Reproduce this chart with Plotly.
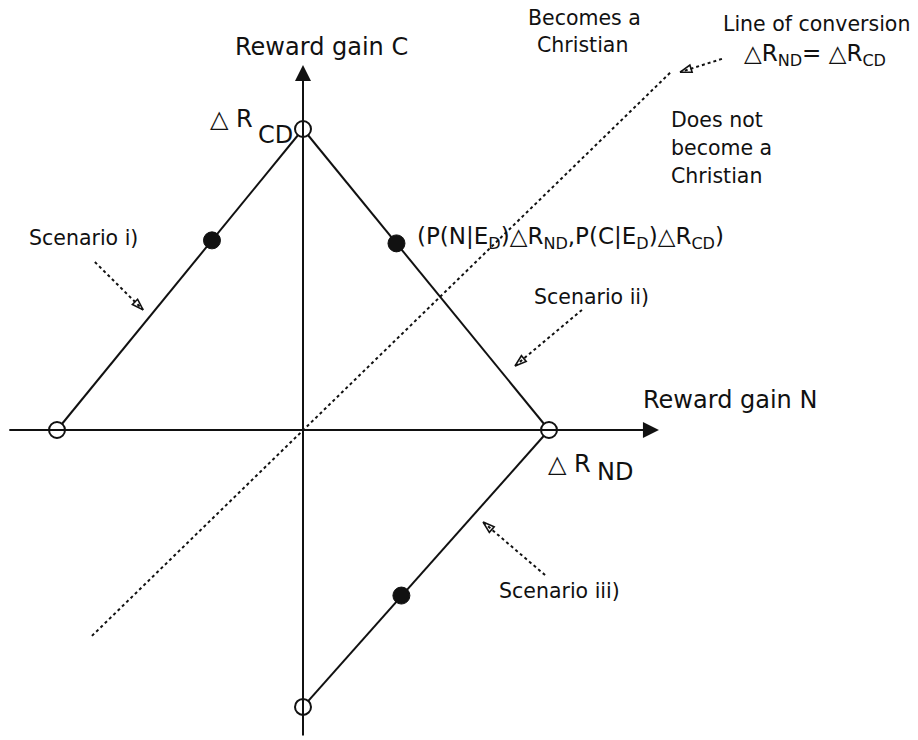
import plotly.graph_objects as go

# ---- diagram data (units: x in ΔR_ND, y in ΔR_CD) ----
axis_x_start, axis_x_tip = -1.2, 1.447      # horizontal axis (Reward gain N)
axis_y_start, axis_y_tip = -1.02, 1.213     # vertical axis (Reward gain C)

scen1_x = [-1.0, 0.0]
scen1_y = [0.0, 1.0]
scen2_x = [0.0, 1.0]
scen2_y = [1.0, 0.0]
scen3_x = [0.0, 1.0]
scen3_y = [-0.92, 0.0]

open_x = [-1.0, 0.0, 1.0, 0.0]
open_y = [0.0, 1.0, 0.0, -0.92]

dot_x = [-0.37, 0.38, 0.40]
dot_y = [0.63, 0.62, -0.55]

conv_x = [-0.858, 1.5]
conv_y = [-0.684, 1.193]

ptr1_x = [-0.846, -0.650]
ptr1_y = [0.558, 0.399]
ptr2_x = [1.134, 0.862]
ptr2_y = [0.399, 0.213]
ptr3_x = [0.984, 0.732]
ptr3_y = [-0.482, -0.306]
ptrc_x = [1.703, 1.533]
ptrc_y = [1.233, 1.189]

# ---- pixel helpers for text placement only (page pixels) ----
OX, OY, UX, UY = 303.0, 430.0, 246.0, 301.0
W, H = 918, 740


def X(p):
    return (p - OX) / UX


def Y(p):
    return (OY - p) / UY


FONT = "DejaVu Sans"
BIG, SMALL = 24, 20.5
INK = "#111111"

fig = go.Figure()

# scenario lines
for xs, ys in [(scen1_x, scen1_y), (scen2_x, scen2_y), (scen3_x, scen3_y)]:
    fig.add_trace(go.Scatter(x=xs, y=ys, mode="lines",
                             line=dict(color=INK, width=2), hoverinfo="skip"))

# line of conversion (dotted)
fig.add_trace(go.Scatter(x=conv_x, y=conv_y, mode="lines",
                         line=dict(color=INK, width=2, dash="dot"), hoverinfo="skip"))

# dotted pointer arrows
for xs, ys in [(ptr1_x, ptr1_y), (ptr2_x, ptr2_y), (ptr3_x, ptr3_y), (ptrc_x, ptrc_y)]:
    fig.add_trace(go.Scatter(
        x=xs, y=ys, mode="lines+markers",
        line=dict(color=INK, width=2, dash="dot"),
        marker=dict(symbol="arrow-open", size=[0, 12], opacity=[0, 1],
                    angleref="previous", color=INK, line=dict(color=INK, width=1.6)),
        hoverinfo="skip"))

# axes with arrows
fig.add_annotation(x=axis_x_tip, y=0, ax=axis_x_start, ay=0, xref="x", yref="y",
                   axref="x", ayref="y", showarrow=True, arrowhead=2, arrowsize=1.6,
                   arrowwidth=2, arrowcolor=INK, text="")
fig.add_annotation(x=0, y=axis_y_tip, ax=0, ay=axis_y_start, xref="x", yref="y",
                   axref="x", ayref="y", showarrow=True, arrowhead=2, arrowsize=1.6,
                   arrowwidth=2, arrowcolor=INK, text="")

# open circles and filled dots
fig.add_trace(go.Scatter(x=open_x, y=open_y, mode="markers",
                         marker=dict(symbol="circle", size=16, color="white",
                                     line=dict(color=INK, width=2)), hoverinfo="skip"))
fig.add_trace(go.Scatter(x=dot_x, y=dot_y, mode="markers",
                         marker=dict(symbol="circle", size=17, color=INK,
                                     line=dict(color=INK, width=1)), hoverinfo="skip"))


def label(text, xpix, baseline, size=SMALL, anchor="left"):
    fig.add_annotation(x=X(xpix), y=Y(baseline - 0.35 * size), xref="x", yref="y",
                       text=text, showarrow=False, xanchor=anchor, yanchor="middle",
                       font=dict(family=FONT, size=size, color=INK), borderpad=0)


label("Reward gain C", 321, 55, BIG, "center")
label("Reward gain N", 730, 408, BIG, "center")
label("Becomes a", 584, 25, SMALL, "center")
label("Christian", 582, 52, SMALL, "center")
label("Line of conversion", 816, 31, SMALL, "center")
label("△R<sub>ND</sub>= △R<sub>CD</sub>", 815, 63, 23, "center")
label("Does not", 670, 127)
label("become a", 670, 155)
label("Christian", 670, 183)
label("Scenario i)", 28, 245)
label("(P(N|E<sub>D</sub>)△R<sub>ND</sub>,P(C|E<sub>D</sub>)△R<sub>CD</sub>)", 416, 246, 23)
label("Scenario ii)", 533, 304)
label("Scenario iii)", 498, 598)
label("△ R", 209, 127, BIG)
label("CD", 257, 143, BIG)
label("△ R", 547, 472, BIG)
label("ND", 596, 480, BIG)

fig.update_layout(
    width=W, height=H, margin=dict(l=0, r=0, t=0, b=0),
    paper_bgcolor="white", plot_bgcolor="white", showlegend=False,
    xaxis=dict(range=[X(0), X(W)], visible=False, fixedrange=True),
    yaxis=dict(range=[Y(H), Y(0)], visible=False, fixedrange=True),
)

fig.write_html("out.html", config={"displayModeBar": False},
               post_script="document.body.style.margin='0px';document.body.style.overflow='hidden';")
